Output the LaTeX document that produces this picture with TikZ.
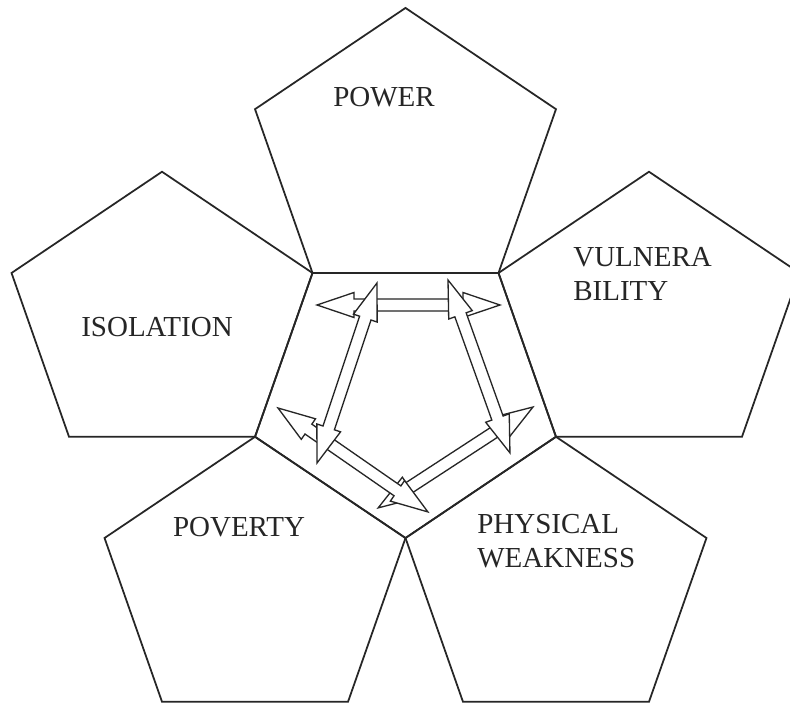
\documentclass[tikz,border=0pt]{standalone}
\usepackage{fontspec}
\setmainfont{Liberation Serif}
\usetikzlibrary{calc}

\begin{document}
\begin{tikzpicture}[
    x=1.08cm, y=1cm,
    pent/.style={draw=black!85, line width=1pt, line join=miter},
    lbl/.style={font=\fontsize{16.5}{19.5}\selectfont, text=black!85, inner sep=0pt, align=left},
    hollow/.style={draw=black!85, fill=white, line width=0.75pt, line join=miter}
    ]
    \def\rad{2.93}
    \def\dist{4.741}
    \def\headlen{0.74cm}
    \def\headwd{0.25cm}
    \def\shaftwd{0.12cm}
    \useasboundingbox[fill=white] (-8.11cm,-6.29cm) rectangle (7.69cm,7.83cm);

    % centre pentagon and the five round it
    \coordinate (core) at (0,0);
    \draw[pent] (-90:\rad) -- (-18:\rad) -- (54:\rad) -- (126:\rad) -- (198:\rad) -- cycle;
    \foreach \dir/\nm in {90/power, 18/vuln, -54/weak, -126/pov, 162/iso} {
        \coordinate (\nm) at (\dir:\dist);
        \draw[pent, shift={(\dir:\dist)}] (90:\rad) -- (162:\rad) -- (234:\rad) -- (306:\rad) -- (18:\rad) -- cycle;
    }

    \node[lbl] (powertxt) at ([xshift=-0.43cm, yshift=1.15cm]power) {POWER};
    \node[lbl, anchor=west] (vulntxt) at ([xshift=-1.52cm, yshift=0.88cm]vuln) {VULNERA\\BILITY};
    \node[lbl] (isotxt) at ([xshift=-0.1cm, yshift=-0.17cm]iso) {ISOLATION};
    \node[lbl] (povtxt) at ([xshift=-0.32cm, yshift=1.12cm]pov) {POVERTY};
    \node[lbl, anchor=west] (weaktxt) at ([xshift=-1.58cm, yshift=0.84cm]weak) {PHYSICAL\\WEAKNESS};

    % ends of the hollow double arrows
    \coordinate (powL) at (-1.77cm, 1.73cm);
    \coordinate (powR) at (1.89cm, 1.73cm);
    \coordinate (isoT) at (-0.57cm, 2.17cm);
    \coordinate (isoB) at (-1.77cm, -1.43cm);
    \coordinate (vulT) at (0.85cm, 2.23cm);
    \coordinate (vulB) at (2.09cm, -1.23cm);
    \coordinate (povL) at (-2.55cm, -0.33cm);
    \coordinate (povR) at (0.45cm, -2.41cm);
    \coordinate (weakR) at (2.55cm, -0.31cm);
    \coordinate (weakL) at (-0.55cm, -2.33cm);

    \foreach \ta/\tb in {powL/powR, weakR/weakL, povL/povR, isoT/isoB, vulT/vulB} {
        \path let \p1=($(\tb)-(\ta)$) in
            \pgfextra{\pgfmathsetmacro{\arrang}{atan2(\y1,\x1)}\pgfmathsetmacro{\arrlen}{veclen(\x1,\y1)}%
                \xdef\arrang{\arrang}\xdef\arrlen{\arrlen}};
        \draw[hollow, shift={(\ta)}, rotate=\arrang]
            (0cm,0cm) -- (\headlen,\headwd) -- (\headlen,\shaftwd)
            -- (\arrlen pt-\headlen,\shaftwd) -- (\arrlen pt-\headlen,\headwd)
            -- (\arrlen pt,0cm) -- (\arrlen pt-\headlen,-\headwd)
            -- (\arrlen pt-\headlen,-\shaftwd) -- (\headlen,-\shaftwd)
            -- (\headlen,-\headwd) -- cycle;
    }
\end{tikzpicture}
\end{document}
